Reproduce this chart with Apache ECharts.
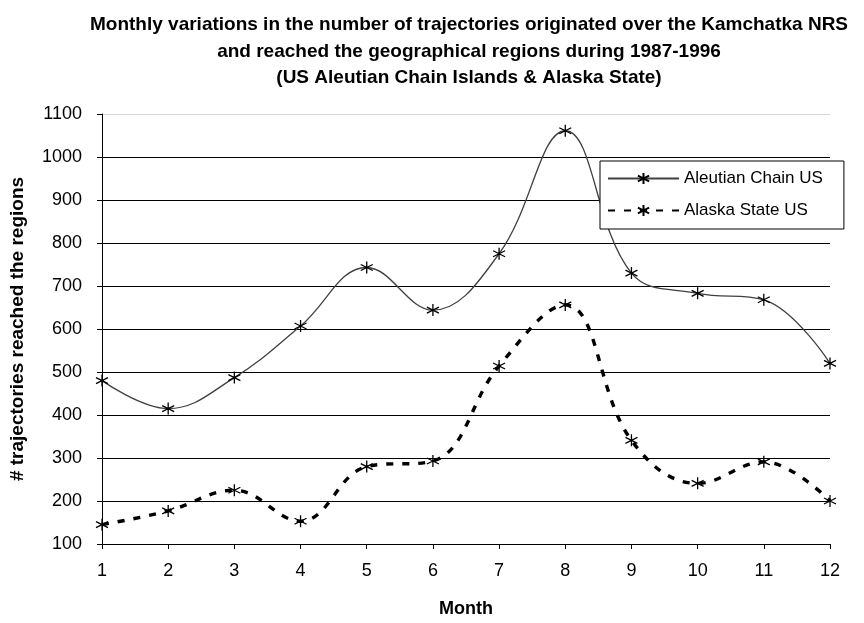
<!DOCTYPE html>
<html>
<head>
<meta charset="utf-8">
<script src="https://cdn.jsdelivr.net/npm/echarts@6/dist/echarts.min.js"></script>
<style>html,body{margin:0;padding:0;background:#fff}#c{width:864px;height:623px}</style>
</head>
<body>
<div id="c"></div>
<script>
var months = ['1','2','3','4','5','6','7','8','9','10','11','12'];
var aleutian = [480, 415, 487, 607, 743, 644, 775, 1061, 730, 683, 668, 520];
var alaska = [145, 177, 225, 153, 280, 293, 514, 656, 341, 241, 291, 200];
var yMin = 100, yMax = 1100, yStep = 100;

var FONT = '"Liberation Sans", Arial, sans-serif';
var STAR = 'path://M0,-10L0,10M-8.66,-5L8.66,5M-8.66,5L8.66,-5';

var chart = echarts.init(document.getElementById('c'), null, {renderer: 'canvas'});
chart.setOption({
  animation: false,
  backgroundColor: '#fff',
  title: {
    text: 'Monthly variations in the number of trajectories originated over the Kamchatka NRS\nand reached the geographical regions during 1987-1996\n(US Aleutian Chain Islands & Alaska State)',
    left: 464,
    top: 7,
    textAlign: 'center',
    textStyle: {fontFamily: FONT, fontSize: 19, fontWeight: 'bold', color: '#000', lineHeight: 26.5}
  },
  legend: {
    orient: 'vertical',
    left: 600,
    top: 161,
    backgroundColor: '#fff',
    borderColor: '#000',
    borderWidth: 1,
    borderRadius: 0,
    padding: [9, 21, 10, 7],
    itemWidth: 71,
    itemHeight: 14,
    itemGap: 15,
    textStyle: {fontFamily: FONT, fontSize: 17, color: '#000'},
    data: ['Aleutian Chain US', 'Alaska State US']
  },
  grid: {left: 98, right: 34, top: 114, bottom: 75, containLabel: false},
  xAxis: {
    type: 'category',
    data: months,
    boundaryGap: false,
    name: 'Month',
    nameLocation: 'middle',
    nameGap: 56,
    nameTextStyle: {fontFamily: FONT, fontSize: 18, fontWeight: 'bold', color: '#000'},
    axisLine: {lineStyle: {color: '#000', width: 1}},
    axisTick: {show: true, inside: false, length: 5, alignWithLabel: true, lineStyle: {color: '#000'}},
    axisLabel: {fontFamily: FONT, fontSize: 18, color: '#000', margin: 18},
    splitLine: {show: false}
  },
  yAxis: {
    type: 'value',
    min: yMin,
    max: yMax,
    interval: yStep,
    name: '# trajectories reached the regions',
    nameLocation: 'middle',
    nameGap: 75,
    nameTextStyle: {fontFamily: FONT, fontSize: 19, fontWeight: 'bold', color: '#000'},
    axisLine: {show: true, lineStyle: {color: '#000', width: 1}},
    axisTick: {show: true, inside: false, length: 5, lineStyle: {color: '#000'}},
    axisLabel: {fontFamily: FONT, fontSize: 18, color: '#000', margin: 20, formatter: function (v) { return String(v); }},
    splitLine: {show: true, lineStyle: {color: ['#000','#000','#000','#000','#000','#000','#000','#000','#000','#000','#d8d8d8'], width: 1}}
  },
  series: [
    {
      name: 'Aleutian Chain US',
      type: 'line',
      data: aleutian,
      smooth: 0.4,
      symbol: STAR,
      symbolSize: 12,
      showAllSymbol: true,
      lineStyle: {color: '#404040', width: 1.3, type: 'solid'},
      itemStyle: {color: '#000', borderColor: '#000', borderWidth: 1.3}
    },
    {
      name: 'Alaska State US',
      type: 'line',
      data: alaska,
      smooth: 0.4,
      symbol: STAR,
      symbolSize: 12,
      showAllSymbol: true,
      lineStyle: {color: '#000', width: 3.4, type: [7, 9]},
      itemStyle: {color: '#000', borderColor: '#000', borderWidth: 1.3}
    }
  ]
});
</script>
</body>
</html>
